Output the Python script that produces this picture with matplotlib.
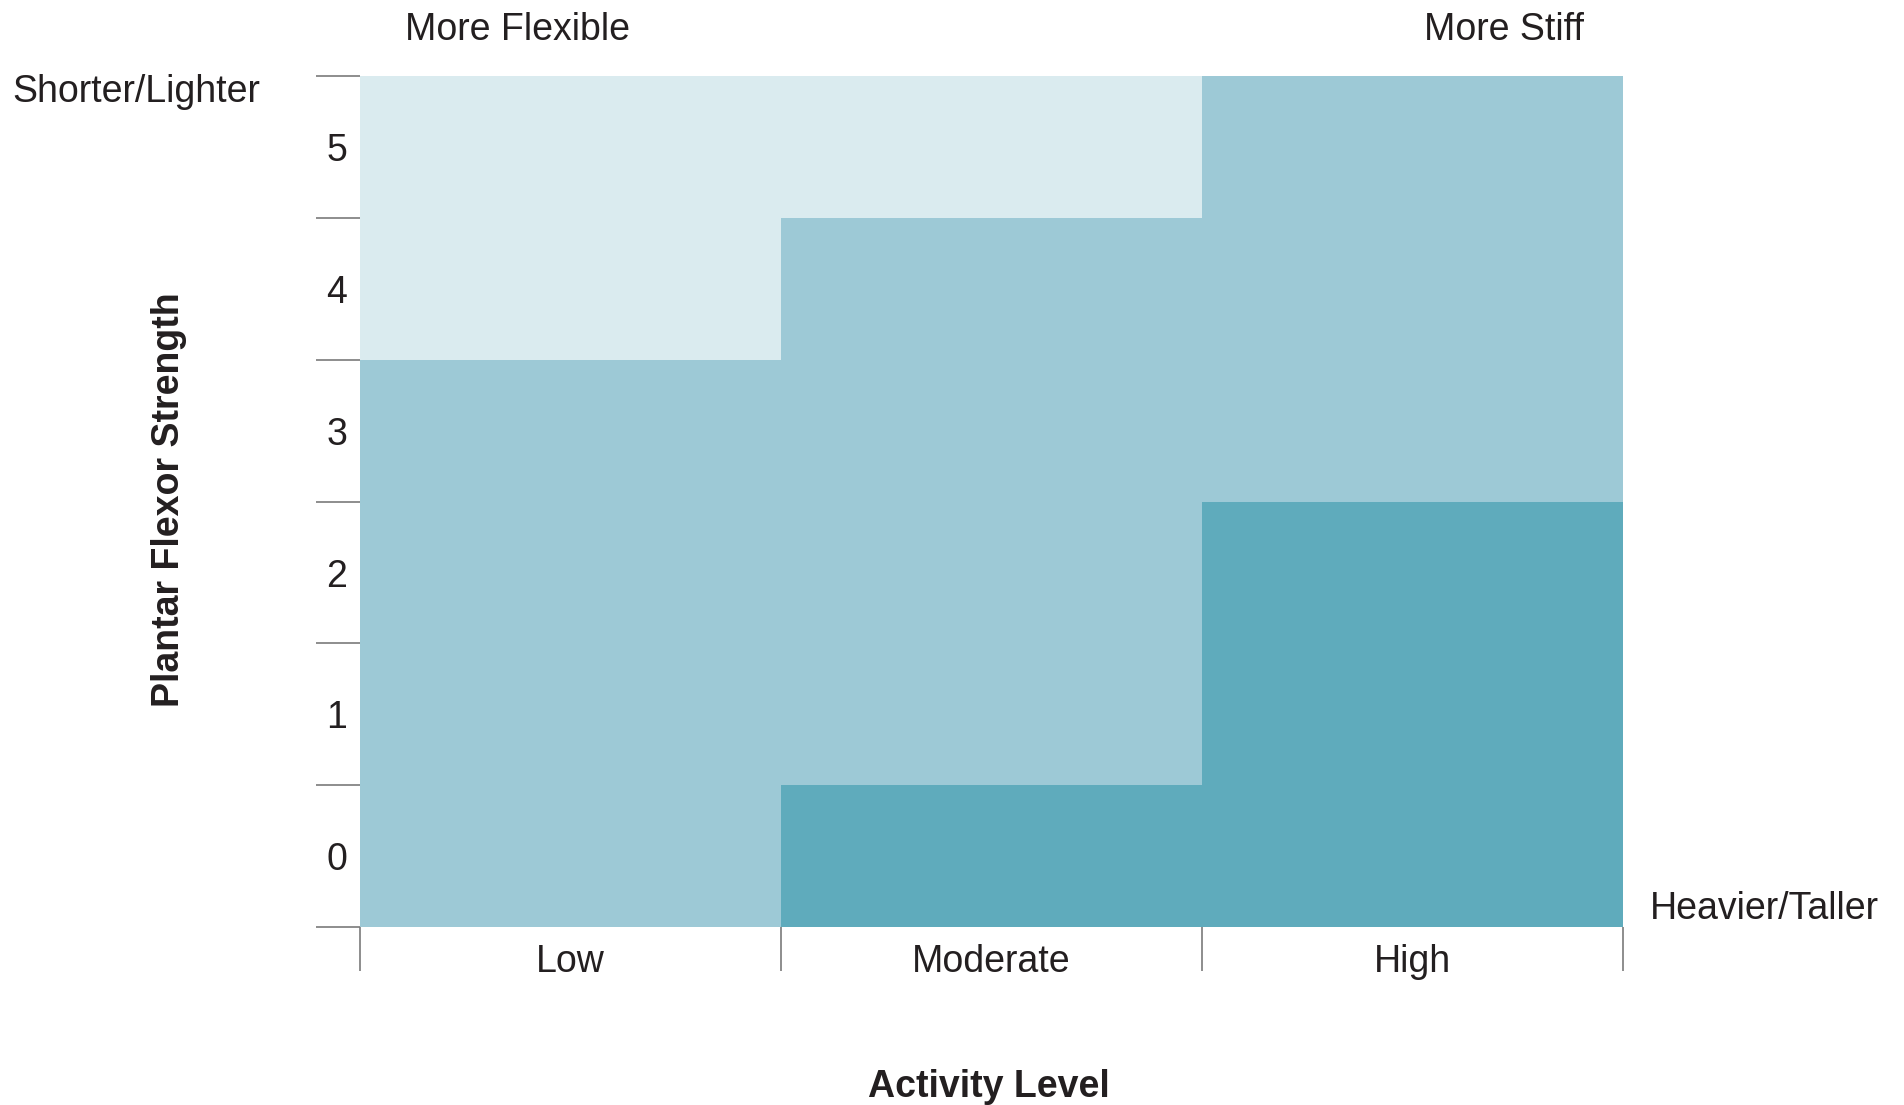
import numpy as np
import matplotlib
matplotlib.use("Agg")
import matplotlib.pyplot as plt
from matplotlib.colors import ListedColormap

plt.rcParams['font.family'] = ['Liberation Sans', 'DejaVu Sans']

# categories
activity = ['Low', 'Moderate', 'High']
strength = [0, 1, 2, 3, 4, 5]

# zone for each strength level (rows) per activity level (columns)
# 0 = more flexible, 1 = middle, 2 = more stiff
zone_low = [1, 1, 1, 1, 0, 0]
zone_moderate = [2, 1, 1, 1, 1, 0]
zone_high = [2, 2, 2, 1, 1, 1]

zone_colors = ['#DAEBEF', '#9DC9D6', '#5FABBC']

grid = np.column_stack([zone_low, zone_moderate, zone_high])

fig = plt.figure(figsize=(19.04, 11.05), dpi=100)
ax = fig.add_axes([0.189, 0.161, 0.6635, 0.770])

x_edges = np.arange(len(activity) + 1)
y_edges = np.arange(len(strength) + 1)
ax.pcolormesh(x_edges, y_edges, grid, cmap=ListedColormap(zone_colors),
              vmin=-0.5, vmax=2.5, shading='flat', edgecolors='none')
ax.set_xlim(0, len(activity))
ax.set_ylim(0, len(strength))

for s in ax.spines.values():
    s.set_visible(False)

fs = 27
txt = '#231f20'
tick_col = '#7a7a7a'
ax.set_xticks(x_edges)
ax.set_xticklabels([])
ax.set_xticks(x_edges[:-1] + 0.5, minor=True)
ax.set_xticklabels(activity, minor=True, fontsize=fs, color=txt)
ax.set_yticks(y_edges)
ax.set_yticklabels([])
ax.set_yticks(y_edges[:-1] + 0.5, minor=True)
ax.set_yticklabels([str(v) for v in strength], minor=True, fontsize=fs, color=txt)

ax.tick_params(which='major', length=32, width=1.2, color=tick_col)
ax.tick_params(which='minor', length=0)
ax.tick_params(axis='x', which='minor', pad=12)
ax.tick_params(axis='y', which='minor', pad=9)

fig.text(0.2717, 0.973, 'More Flexible', ha='center', va='center', fontsize=fs, color=txt)
fig.text(0.790, 0.973, 'More Stiff', ha='center', va='center', fontsize=fs, color=txt)
fig.text(0.0064, 0.917, 'Shorter/Lighter', ha='left', va='center', fontsize=fs, color=txt)
fig.text(0.8665, 0.177, 'Heavier/Taller', ha='left', va='center', fontsize=fs, color=txt)
fig.text(0.0885, 0.548, 'Plantar Flexor Strength', ha='center', va='center',
         rotation=90, fontsize=fs, fontweight='bold', color=txt)
fig.text(0.5195, 0.016, 'Activity Level', ha='center', va='center',
         fontsize=fs, fontweight='bold', color=txt)

fig.savefig('out.png', dpi=100)
